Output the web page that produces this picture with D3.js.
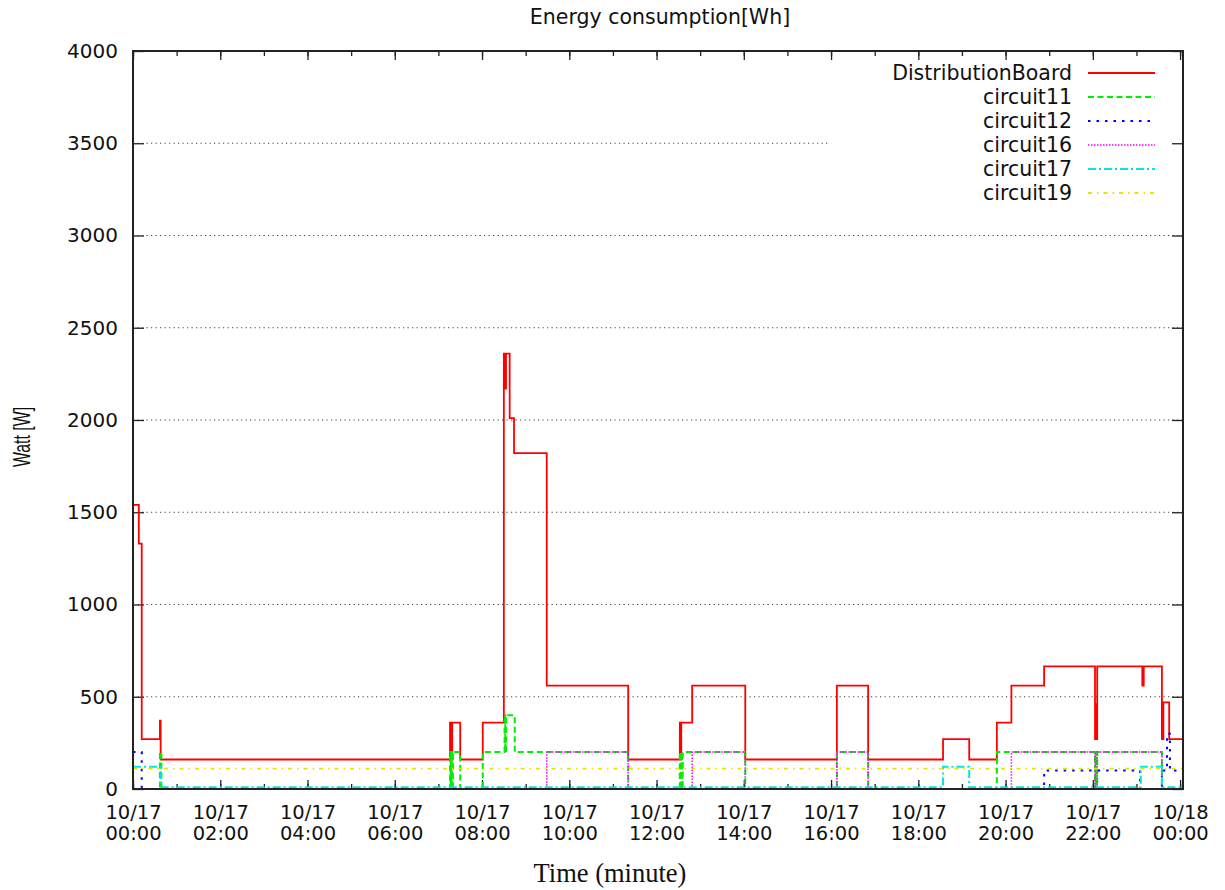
<!DOCTYPE html>
<html>
<head>
<meta charset="utf-8">
<script src="https://cdn.jsdelivr.net/npm/d3@7"></script>
<style>
  body { margin: 0; background: #fff; }
  svg { display: block; }
</style>
</head>
<body>
<div id="chart"></div>
<script>
// step data: [time of change "HH:MM", watt]
var boardSteps = [
  ["00:00", 1540], ["00:08", 1330], ["00:12", 270], ["00:37", 370], ["00:38", 160],
  ["07:16", 360], ["07:18", 160], ["07:19", 360], ["07:30", 160], ["08:01", 360],
  ["08:30", 2360], ["08:32", 2170], ["08:33", 2360], ["08:38", 2010], ["08:44", 1820],
  ["09:29", 560], ["11:21", 160], ["12:32", 360], ["12:33", 160], ["12:34", 360],
  ["12:49", 560], ["14:02", 160], ["16:08", 560], ["16:51", 160], ["18:34", 270],
  ["19:10", 160], ["19:48", 360], ["20:08", 560], ["20:53", 665], ["22:03", 270],
  ["22:04", 460], ["22:05", 270], ["22:06", 665], ["23:08", 560], ["23:10", 665],
  ["23:35", 270], ["23:37", 470], ["23:45", 270], ["24:04", 270]
];
var circuit11Steps = [
  ["00:00", 0], ["00:37", 200], ["00:39", 0], ["07:16", 200], ["07:17", 0],
  ["07:18", 200], ["07:19", 0], ["07:20", 200], ["07:30", 0], ["08:01", 200],
  ["08:31", 400], ["08:32", 200], ["08:33", 400], ["08:45", 200], ["11:21", 0],
  ["12:32", 200], ["12:33", 0], ["12:34", 200], ["12:35", 0], ["12:36", 200],
  ["14:02", 0], ["16:08", 200], ["16:51", 0], ["19:48", 200], ["22:03", 0],
  ["22:04", 200], ["22:05", 0], ["22:06", 200], ["23:35", 0], ["24:04", 0]
];
var circuit12Steps = [
  ["00:00", 200], ["00:12", 0], ["20:53", 100], ["23:05", 0], ["23:35", 100],
  ["23:42", 300], ["23:46", 100], ["24:04", 100]
];
var circuit16Steps = [
  ["00:00", 0], ["09:29", 200], ["11:21", 0], ["12:49", 200], ["14:02", 0],
  ["16:08", 200], ["16:51", 0], ["20:08", 200], ["22:03", 0], ["22:06", 200],
  ["23:35", 0], ["24:04", 0]
];
var circuit17Steps = [
  ["00:00", 120], ["00:38", 10], ["18:34", 120], ["19:10", 10], ["23:06", 120],
  ["23:35", 10], ["24:04", 10]
];
var circuit19Steps = [
  ["00:00", 110], ["24:04", 110]
];

var seriesNames = ["DistributionBoard", "circuit11", "circuit12", "circuit16", "circuit17", "circuit19"];
var seriesColors = ["#ff0000", "#00ee00", "#0000ff", "#ff00ff", "#00e5e5", "#e5e500"];
var seriesDashes = [null, "6,3.5", "2.5,6", "1.5,1.5", "8,3,2,3", "4,5,1.5,5"];
var seriesWidths = [1.8, 2, 2, 1.5, 2, 1.8];
var yTickValues = [0, 500, 1000, 1500, 2000, 2500, 3000, 3500, 4000];

var svgWidth = 1225;
var svgHeight = 890;
var margin = { top: 51, right: 42, bottom: 101, left: 133 };
var width = svgWidth - margin.left - margin.right;
var height = svgHeight - margin.top - margin.bottom;

var sansFont = "'DejaVu Sans', Verdana, sans-serif";

function toDate(s) {
  var p = s.split(":").map(Number);
  return new Date(2013, 9, 17, p[0], p[1]);
}

var allSteps = [boardSteps, circuit11Steps, circuit12Steps, circuit16Steps, circuit17Steps, circuit19Steps];
var series = allSteps.map(function(steps, i) {
  return {
    name: seriesNames[i],
    color: seriesColors[i],
    dash: seriesDashes[i],
    width: seriesWidths[i],
    values: steps.map(function(d) { return { t: toDate(d[0]), v: d[1] }; })
  };
});

var svg = d3.select("#chart")
  .append("svg")
  .attr("width", svgWidth)
  .attr("height", svgHeight)
  .style("font-family", sansFont);

var chart = svg.append("g")
  .attr("transform", `translate(${margin.left}, ${margin.top})`);

var xScale = d3.scaleTime()
  .domain([toDate("00:00"), toDate("24:04")])
  .range([0, width]);

var yScale = d3.scaleLinear()
  .domain([0, 4000])
  .range([height, 0]);

// grid (3500 line stops at the key)
chart.append("g")
  .selectAll("line")
  .data(yTickValues.filter(function(v) { return v > 0 && v < 4000; }))
  .enter()
  .append("line")
  .attr("x1", 0)
  .attr("x2", function(v) { return v === 3500 ? 697 : width; })
  .attr("y1", function(v) { return yScale(v); })
  .attr("y2", function(v) { return yScale(v); })
  .attr("stroke", "#444")
  .attr("stroke-width", 1.2)
  .attr("stroke-dasharray", "1.2,3.3");

// axes: major every 2h, minor every hour, ticks inward and mirrored
var majorTimes = d3.timeHour.every(2).range(toDate("00:00"), toDate("24:01"));
var minorTimes = d3.timeHour.every(1).range(toDate("00:00"), toDate("24:01"));

var bottomAxis = d3.axisBottom(xScale).tickValues(majorTimes).tickSizeInner(-9).tickSizeOuter(0).tickPadding(28).tickFormat(d3.timeFormat("%m/%d|%H:%M"));
var bottomMinor = d3.axisBottom(xScale).tickValues(minorTimes).tickSizeInner(-5).tickSizeOuter(0).tickFormat("");
var topAxis = d3.axisTop(xScale).tickValues(majorTimes).tickSizeInner(-9).tickSizeOuter(0).tickFormat("");
var topMinor = d3.axisTop(xScale).tickValues(minorTimes).tickSizeInner(-5).tickSizeOuter(0).tickFormat("");
var leftAxis = d3.axisLeft(yScale).tickValues(yTickValues).tickSizeInner(-11).tickSizeOuter(0).tickPadding(15).tickFormat(d3.format("d"));
var rightAxis = d3.axisRight(yScale).tickValues(yTickValues).tickSizeInner(-11).tickSizeOuter(0).tickFormat("");

var gx = chart.append("g").attr("transform", `translate(0, ${height})`).call(bottomAxis);
chart.append("g").attr("transform", `translate(0, ${height})`).call(bottomMinor);
chart.append("g").call(topAxis);
chart.append("g").call(topMinor);
var gy = chart.append("g").call(leftAxis);
chart.append("g").attr("transform", `translate(${width}, 0)`).call(rightAxis);

chart.selectAll(".domain").remove();
chart.selectAll(".tick line").attr("stroke", "#222").attr("stroke-width", 1.3);

gx.selectAll(".tick text").each(function() {
  var parts = d3.select(this).text().split("|");
  var t = d3.select(this).text(null);
  t.append("tspan").attr("x", 0).attr("dy", "0.1em").text(parts[0]);
  t.append("tspan").attr("x", 0).attr("dy", "1.08em").text(parts[1]);
});
gx.selectAll("text").attr("font-size", 19.5).attr("fill", "#111").style("font-family", sansFont);
gy.selectAll("text").attr("font-size", 20).attr("fill", "#111").style("font-family", sansFont);

// lines
var line = d3.line()
  .curve(d3.curveStepAfter)
  .x(function(d) { return xScale(d.t); })
  .y(function(d) { return yScale(d.v); });

chart.append("g")
  .selectAll("path")
  .data(series)
  .enter()
  .append("path")
  .attr("d", function(d) { return line(d.values); })
  .attr("fill", "none")
  .attr("stroke", function(d) { return d.color; })
  .attr("stroke-width", function(d) { return d.width; })
  .attr("stroke-dasharray", function(d) { return d.dash; });

// border
chart.append("rect")
  .attr("width", width)
  .attr("height", height)
  .attr("fill", "none")
  .attr("stroke", "#222")
  .attr("stroke-width", 2);

// key
var key = chart.append("g").attr("transform", "translate(0, 22)");
var keyRows = key.selectAll("g")
  .data(series)
  .enter()
  .append("g")
  .attr("transform", function(d, i) { return `translate(0, ${i * 24})`; });
keyRows.append("text")
  .attr("x", 939)
  .attr("y", 0)
  .attr("dy", "0.36em")
  .attr("text-anchor", "end")
  .attr("font-size", 20.5)
  .attr("fill", "#111")
  .text(function(d) { return d.name; });
keyRows.append("line")
  .attr("x1", 955)
  .attr("x2", 1022)
  .attr("y1", 0)
  .attr("y2", 0)
  .attr("stroke", function(d) { return d.color; })
  .attr("stroke-width", function(d) { return d.width; })
  .attr("stroke-dasharray", function(d) { return d.dash; });

// titles
svg.append("text")
  .attr("x", 660)
  .attr("y", 24)
  .attr("text-anchor", "middle")
  .attr("font-size", 20.5)
  .attr("fill", "#111")
  .text("Energy consumption[Wh]");

svg.append("text")
  .attr("transform", "translate(30, 437) rotate(-90) scale(0.66, 1)")
  .attr("text-anchor", "middle")
  .attr("font-size", 24)
  .attr("fill", "#111")
  .style("font-family", "'Liberation Sans', Arial, sans-serif")
  .text("Watt [W]");

svg.append("text")
  .attr("x", 610)
  .attr("y", 882)
  .attr("text-anchor", "middle")
  .attr("font-size", 26.5)
  .attr("fill", "#111")
  .style("font-family", "'Liberation Serif', 'Times New Roman', serif")
  .text("Time (minute)");
</script>
</body>
</html>
